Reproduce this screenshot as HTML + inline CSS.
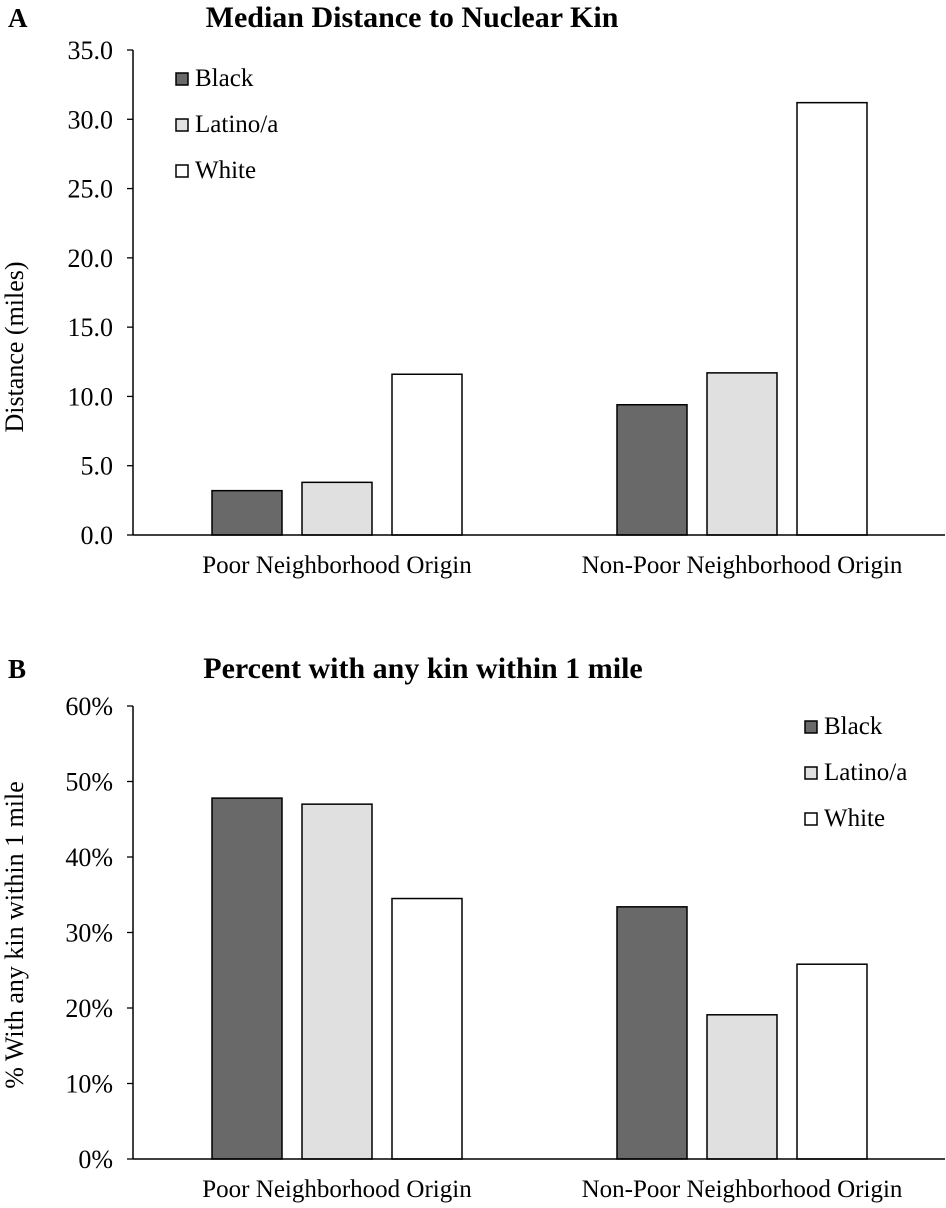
<!DOCTYPE html>
<html><head><meta charset="utf-8"><style>
body{margin:0;background:#fff;}
svg text{font-family:"Liberation Serif",serif;fill:#000;}
</style></head><body>
<svg id="s" width="946" height="1203"></svg>
<script>
const groups=["Poor Neighborhood Origin","Non-Poor Neighborhood Origin"];
const seriesNames=["Black","Latino/a","White"];
const colors=["#696969","#e0e0e0","#ffffff"];
const aBlack=[3.2,9.4];
const aLatino=[3.8,11.7];
const aWhite=[11.6,31.2];
const aTicks=["0.0","5.0","10.0","15.0","20.0","25.0","30.0","35.0"];
const bBlack=[47.8,33.4];
const bLatino=[47.0,19.1];
const bWhite=[34.5,25.8];
const bTicks=["0%","10%","20%","30%","40%","50%","60%"];
const NS="http://www.w3.org/2000/svg";
const svg=document.getElementById('s');
function mk(t,a,p){const e=document.createElementNS(NS,t);for(const k in a)e.setAttribute(k,a[k]);(p||svg).appendChild(e);return e;}
function txt(x,y,s,a){const e=mk('text',Object.assign({x:x,y:y},a||{}));e.textContent=s;return e;}
function chart(o){
  const g=mk('g',{});
  
  
  const ax=133,x1=945,y0=o.y0,ytop=o.ytop,max=o.max;
  const Y=v=>y0-(v/max)*(y0-ytop);
  const l=txt(8,o.titleY,o.letter,{'font-size':27,'font-weight':'bold'});
  g.appendChild(l);
  const t=txt(o.titleX,o.titleY,o.title,{'font-size':30,'font-weight':'bold','text-anchor':'middle'});
  g.appendChild(t);
  o.ticks.forEach((s,i)=>{const v=i*max/(o.ticks.length-1);const y=Y(v);
    mk('line',{x1:127,x2:ax,y1:y,y2:y,stroke:'#000','stroke-width':1.3},g);
    const tl=txt(113,y+9,s,{'font-size':26,'text-anchor':'end'});
    g.appendChild(tl);});
  const yl=txt(0,0,o.ylabel,{'font-size':26,'text-anchor':'middle',transform:`translate(23,${o.ylabelY}) rotate(-90)`});
  g.appendChild(yl);
  const starts=[212,617],w=70,gap=90;
  o.data.forEach((arr,si)=>arr.forEach((v,gi)=>{
    const r=mk('rect',{x:starts[gi]+si*gap,y:Y(v),width:w,height:y0-Y(v),fill:colors[si],stroke:'#000','stroke-width':1.5},g);
    
    }));
  mk('line',{x1:ax,x2:ax,y1:ytop,y2:y0,stroke:'#000','stroke-width':1.5},g);
  mk('line',{x1:ax,x2:x1,y1:y0,y2:y0,stroke:'#000','stroke-width':1.5},g);
  groups.forEach((s,i)=>{const c=txt(starts[i]+125,y0+38,s,{'font-size':25,'text-anchor':'middle'});
    g.appendChild(c);});
  seriesNames.forEach((s,i)=>{const y=o.legY+i*46;
    const lg=mk('g',{},g);
    
    mk('rect',{x:o.legX,y:y-12,width:12,height:12,fill:colors[i],stroke:'#000','stroke-width':1.5},lg);
    txt(o.legX+19,y+1,s,{'font-size':25},lg);});
  svg.appendChild(g);
}
chart({name:'chart-a',letter:'A',title:'Median Distance to Nuclear Kin',titleX:412,titleY:27,y0:535,ytop:50,max:35,ticks:aTicks,ylabel:'Distance (miles)',ylabelY:347,data:[aBlack,aLatino,aWhite],legX:176,legY:85});
chart({name:'chart-b',letter:'B',title:'Percent with any kin within 1 mile',titleX:423,titleY:678,y0:1159,ytop:706,max:60,ticks:bTicks,ylabel:'% With any kin within 1 mile',ylabelY:935,data:[bBlack,bLatino,bWhite],legX:805,legY:733});
</script>
</body></html>
